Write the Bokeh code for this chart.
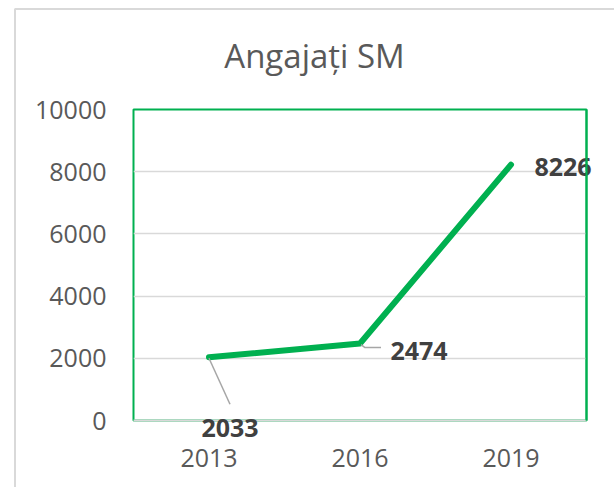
from bokeh.plotting import figure
from bokeh.models import Range1d, FixedTicker, ColumnDataSource
from bokeh.core.properties import value
from bokeh.embed import file_html
from bokeh.resources import INLINE

# ---- data ----
years = ["2013", "2016", "2019"]
employees = [2033, 2474, 8226]
y_ticks = [0, 2000, 4000, 6000, 8000, 10000]
title_text = "Angajați SM"

# ---- layout / style ----
W, H = 614, 487
ML, MR, MT, MB = 133, 28, 109, 67
frame_w = W - ML - MR
frame_h = H - MT - MB
Y_MAX = 10000
FONT = "Open Sans"
GREEN = "#00b050"
GRAY_TXT = "#595959"
GRID = "#d9d9d9"

xs = [i + 0.5 for i in range(len(years))]
px_x = frame_w / len(years)
px_y = frame_h / Y_MAX


def cx(px):  # canvas pixel -> x data
    return (px - ML) / px_x


def cy(py):  # canvas pixel -> y data
    return (H - MB - py) / px_y


p = figure(width=W, height=H, output_backend="svg", toolbar_location=None,
           x_range=Range1d(0, len(years)), y_range=Range1d(0, Y_MAX),
           min_border_left=ML, min_border_right=MR,
           min_border_top=MT, min_border_bottom=MB)

p.outline_line_color = GREEN
p.outline_line_width = 2

# axes
p.xaxis.ticker = FixedTicker(ticks=xs)
p.xaxis.major_label_overrides = {x: y for x, y in zip(xs, years)}
p.yaxis.ticker = FixedTicker(ticks=y_ticks)
for ax in (p.xaxis, p.yaxis):
    ax.major_tick_line_color = None
    ax.minor_tick_line_color = None
    ax.major_label_text_font = FONT
    ax.major_label_text_font_size = "25px"
    ax.major_label_text_color = GRAY_TXT
p.xaxis.axis_line_color = GRID
p.xaxis.axis_line_width = 2
p.yaxis.axis_line_color = None
p.xaxis.major_label_standoff = 22
p.yaxis.major_label_standoff = 21

p.xgrid.visible = False
p.ygrid.ticker = FixedTicker(ticks=y_ticks)
p.ygrid.grid_line_color = GRID
p.ygrid.grid_line_width = 1.5

# chart title (chart area is centred on the page)
p.text(x=[cx(314)], y=[cy(55)], text=[title_text],
       text_font=value(FONT), text_font_size="33px", text_color=GRAY_TXT,
       text_align="center", text_baseline="middle", level="overlay")

# leader lines (pixel offsets converted through the scales)
leader_2033 = [(0, 1), (21, 47)]
leader_2474 = [(1, 1), (5, 4), (21, 4)]
for idx, pts in ((0, leader_2033), (1, leader_2474)):
    lx = [xs[idx] + dx / px_x for dx, dy in pts]
    ly = [employees[idx] - dy / px_y for dx, dy in pts]
    p.line(lx, ly, line_color="#a6a6a6", line_width=1.5, level="overlay")

# series line
p.line(xs, employees, line_color=GREEN, line_width=6,
       line_cap="round", line_join="round")

# data labels
label_dx = [21, 59, 52]
label_dy = [71, 7, 2]
src = ColumnDataSource(dict(x=xs, y=employees, t=[str(v) for v in employees],
                            dx=label_dx, dy=label_dy))
p.text(x="x", y="y", text="t", x_offset="dx", y_offset="dy", source=src,
       text_font=value(FONT), text_font_size="25px", text_font_style="bold",
       text_color="#404040", text_align="center", text_baseline="middle",
       level="overlay")

# plot-area right edge drawn over the "8226" label, as in the original
p.segment(x0=[len(years)], y0=[0], x1=[len(years)], y1=[Y_MAX],
          line_color=GREEN, line_width=2, level="overlay")

# outer chart-area border (chart area extends past the visible page)
p.quad(left=[cx(14.5)], right=[cx(900)], top=[cy(8.5)], bottom=[cy(900)],
       fill_color=None, line_color=GRID, line_width=2, level="overlay")

open("out.html", "w").write(file_html(p, INLINE))
